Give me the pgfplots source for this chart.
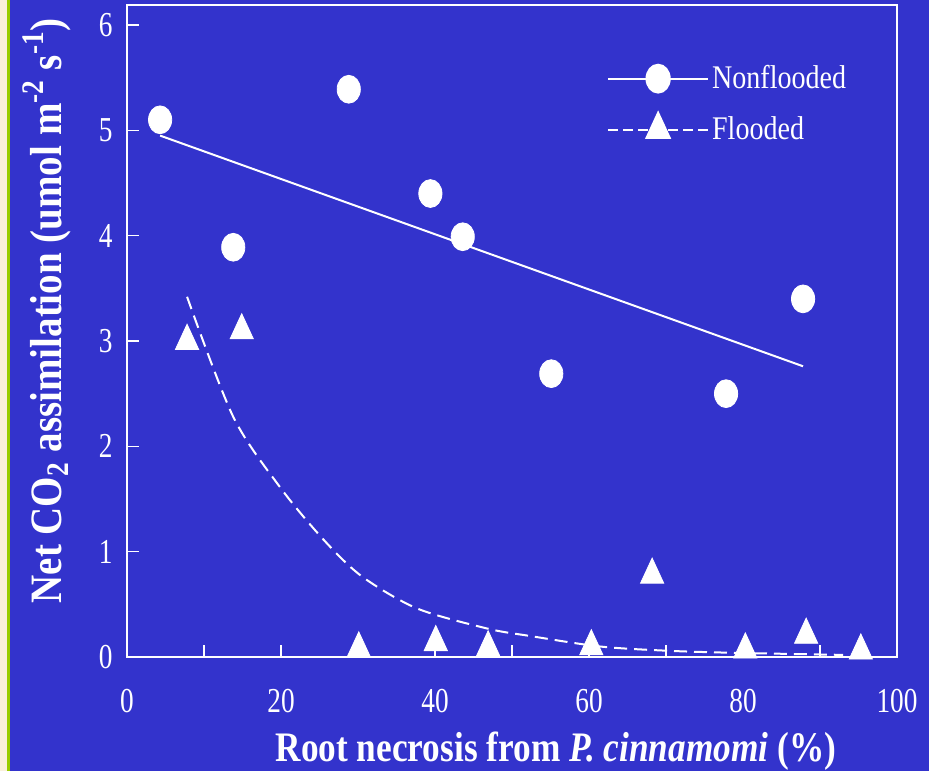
\documentclass[border=0pt]{standalone}
\usepackage{pgfplots}
\pgfplotsset{compat=1.18}
\usepackage{fontspec}
\setmainfont{Liberation Serif}
\usepackage{graphicx}
\definecolor{bgblue}{RGB}{51,51,204}
\definecolor{cream}{RGB}{250,240,220}
\definecolor{stripegreen}{RGB}{153,204,0}
\begin{document}
\begin{tikzpicture}
\path[use as bounding box, fill=bgblue] (0,0) rectangle (464.5pt,385.5pt);
\fill[cream] (0,0) rectangle (3.5pt,385.5pt);
\fill[stripegreen] (3.5pt,0) rectangle (5pt,385.5pt);
\begin{axis}[
  at={(63.5pt,57pt)}, anchor=south west,
  scale only axis, width=385pt, height=326pt,
  xmin=0, xmax=100, ymin=0, ymax=6.19,
  clip=false,
  axis line style={white, line width=1pt},
  every tick/.style={white, line width=0.6pt},
  major tick length=6pt, minor tick length=6pt,
  tick align=inside,
  xtick pos=bottom, ytick pos=left,
  xtick={0,20,...,100}, minor xtick={10,30,50,70,90},
  ytick={0,1,2,3,4,5,6},
  /pgf/number format/assume math mode=true,
  tick label style={text=white, font=\fontsize{17.5}{20}\selectfont, inner sep=0pt},
  xticklabel={\scalebox{0.78}[1]{\pgfmathprintnumber{\tick}}},
  yticklabel={\scalebox{0.78}[1]{\pgfmathprintnumber{\tick}}},
  xticklabel style={anchor=base, yshift=-27.5pt},
  yticklabel style={anchor=east, xshift=-7pt},
  xlabel={\scalebox{0.84}[1]{\fontsize{21}{25}\selectfont\bfseries Root necrosis from \textit{P. cinnamomi} (\%)}},
  ylabel={\scalebox{1}[1.15]{\fontsize{19.5}{23}\selectfont\bfseries Net CO\textsubscript{2} assimilation (umol m\textsuperscript{-2} s\textsuperscript{-1})}},
  xlabel style={at={(axis description cs:0.557,-0.161)}, anchor=base, text=white},
  ylabel style={at={(axis description cs:-0.0857,0.531)}, anchor=base, text=white},
  legend style={draw=none, fill=none, text=white, font=\fontsize{16.5}{18}\selectfont,
    at={(axis cs:62.3,5.25)}, anchor=west, inner sep=0pt, row sep=9pt,
    nodes={inner sep=1.5pt}, cells={anchor=west}},
  legend image code/.code={\draw[#1, mark repeat=2, mark phase=2] plot coordinates {(0pt,0pt) (25pt,0pt) (50pt,0pt)};},
]
% Nonflooded observations
\addplot[only marks, mark=*, mark size=5.8pt, mark options={fill=white, draw=white, yscale=1.2}, forget plot] coordinates {
(4.3,5.10) (13.8,3.89) (28.8,5.39) (39.4,4.40) (43.6,3.99) (55.1,2.69) (77.8,2.50) (87.8,3.40)};
% Nonflooded regression line
\addplot[white, line width=1pt, no marks, forget plot] coordinates {(4.3,4.95) (87.8,2.76)};
% Flooded observations
\addplot[only marks, mark=triangle*, mark size=6.7pt, mark options={fill=white, draw=white, yscale=1.25}, forget plot] coordinates {
(7.8,3.00) (14.9,3.10) (30.1,0.08) (40.1,0.14) (46.9,0.09) (60.3,0.10) (68.2,0.78) (80.3,0.07) (88.2,0.21) (95.3,0.06)};
% Flooded fitted curve
\addplot[white, line width=1pt, dash pattern=on 6.5pt off 3.5pt, no marks, smooth, forget plot] coordinates {
(7.8,3.42) (13.8,2.28) (20,1.60) (25.7,1.10) (30.6,0.76) (37.7,0.46) (46.8,0.27) (52.3,0.20) (61.4,0.10) (70,0.06) (78.7,0.04) (93,0.02)};
\addlegendimage{white, line width=1pt, solid, mark=*, mark size=5.8pt, mark options={fill=white, draw=white, yscale=1.2}}
\addlegendimage{white, line width=1pt, dash pattern=on 5pt off 2.5pt, mark=triangle*, mark size=6.7pt, mark options={fill=white, draw=white, solid, yscale=1.25}}
\legend{\scalebox{0.85}[1]{Nonflooded}, \scalebox{0.85}[1]{Flooded}}
\end{axis}
\end{tikzpicture}
\end{document}
